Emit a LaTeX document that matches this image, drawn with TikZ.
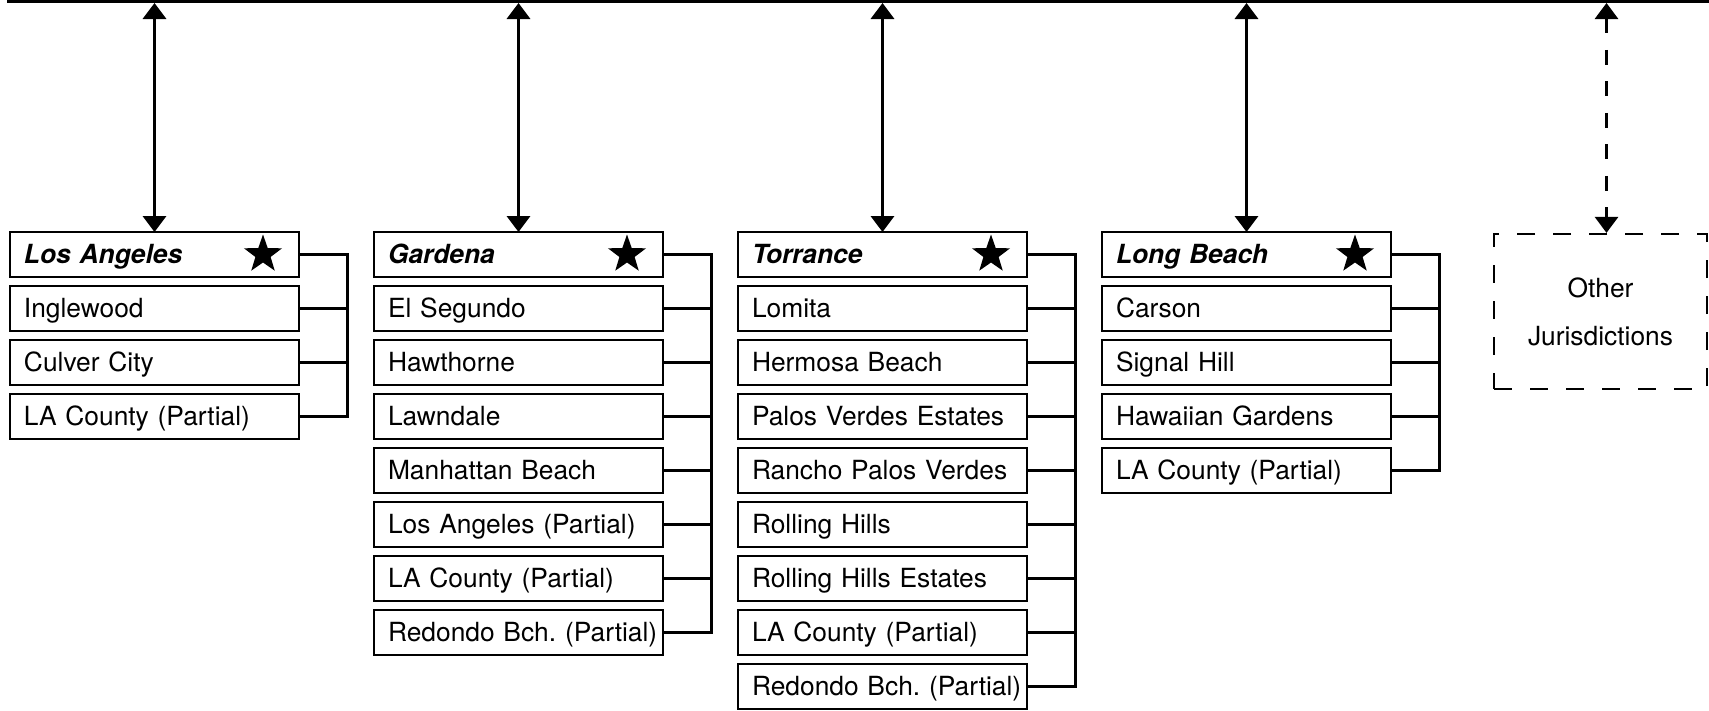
\documentclass[tikz,border=0pt]{standalone}
\usepackage{fontspec}
\setmainfont{TeX Gyre Heros}
\usepackage{tikz}
\usetikzlibrary{positioning}
\usetikzlibrary{shapes.geometric}
\usetikzlibrary{arrows.meta}

\begin{document}
\begin{tikzpicture}[city/.style={draw, rectangle, line width=0.045cm, outer sep=0pt, inner xsep=0.14cm, inner ysep=0pt,
				text width=5.5cm, text height=11pt, text depth=0.5pt, align=left, minimum height=0.9cm,
				font=\fontsize{15}{18}\selectfont\frenchspacing,
				execute at begin node={\hspace*{0.14cm}\hbox\bgroup}, execute at end node={\egroup}},
			seat/.style={city, font=\fontsize{15}{18}\selectfont\bfseries\itshape},
			starmark/.style={star, star points=5, star point ratio=2.5, fill=black, draw=none, inner sep=0pt, minimum size=0.8cm},
			link/.style={{Triangle[width=0.46cm,length=0.32cm]}-{Triangle[width=0.46cm,length=0.32cm]}, line width=0.07cm, shorten <=0.03cm},
			bus/.style={line width=0.06cm},
			node distance=0.18cm]
			\useasboundingbox (0,0) rectangle (34.18,-14.2);
			\clip (0,0) rectangle (34.18,-14.2);
			
			\coordinate (bar-nw) at (0.16,0.5);
			\coordinate (bar-sw) at (0.16,-0.03);
			\coordinate (bar-se) at (34.6,-0.03);
			\draw[line width=0.06cm] (bar-nw) -- (bar-sw) -- (bar-se);
			
			\node[seat, anchor=north west] (la) at (0.2,-4.64) {Los Angeles};
			\node[starmark] (la-star) at ([xshift=-0.72cm]la.east) {};
			\node[city, below=of la] (la1) {Inglewood};
			\node[city, below=of la1] (la2) {Culver City};
			\node[city, below=of la2] (la3) {LA County (Partial)};
			
			\node[seat, right=1.5cm of la] (gar) {Gardena};
			\node[starmark] (gar-star) at ([xshift=-0.72cm]gar.east) {};
			\node[city, below=of gar] (gar1) {El Segundo};
			\node[city, below=of gar1] (gar2) {Hawthorne};
			\node[city, below=of gar2] (gar3) {Lawndale};
			\node[city, below=of gar3] (gar4) {Manhattan Beach};
			\node[city, below=of gar4] (gar5) {Los Angeles (Partial)};
			\node[city, below=of gar5] (gar6) {LA County (Partial)};
			\node[city, below=of gar6] (gar7) {Redondo Bch. (Partial)};
			
			\node[seat, right=1.5cm of gar] (tor) {Torrance};
			\node[starmark] (tor-star) at ([xshift=-0.72cm]tor.east) {};
			\node[city, below=of tor] (tor1) {Lomita};
			\node[city, below=of tor1] (tor2) {Hermosa Beach};
			\node[city, below=of tor2] (tor3) {Palos Verdes Estates};
			\node[city, below=of tor3] (tor4) {Rancho Palos Verdes};
			\node[city, below=of tor4] (tor5) {Rolling Hills};
			\node[city, below=of tor5] (tor6) {Rolling Hills Estates};
			\node[city, below=of tor6] (tor7) {LA County (Partial)};
			\node[city, below=of tor7] (tor8) {Redondo Bch. (Partial)};
			
			\node[seat, right=1.5cm of tor] (lb) {Long Beach};
			\node[starmark] (lb-star) at ([xshift=-0.72cm]lb.east) {};
			\node[city, below=of lb] (lb1) {Carson};
			\node[city, below=of lb1] (lb2) {Signal Hill};
			\node[city, below=of lb2] (lb3) {Hawaiian Gardens};
			\node[city, below=of lb3] (lb4) {LA County (Partial)};
			
			\node[draw, rectangle, line width=0.045cm, dash pattern=on 0.36cm off 0.36cm, minimum width=4.26cm, minimum height=3.1cm,
				align=center, font=\fontsize{15}{27.3}\selectfont] (other) at (32.01,-6.23) {Other\\Jurisdictions};
			
			\coordinate[right=0.96cm of la.east] (la-bus);
			\draw[bus] (la.east) -- (la-bus) |- (la3.east);
			\draw[bus] (la1.east) -- (la1.east -| la-bus);
			\draw[bus] (la2.east) -- (la2.east -| la-bus);
			
			\coordinate[right=0.96cm of gar.east] (gar-bus);
			\draw[bus] (gar.east) -- (gar-bus) |- (gar7.east);
			\draw[bus] (gar1.east) -- (gar1.east -| gar-bus);
			\draw[bus] (gar2.east) -- (gar2.east -| gar-bus);
			\draw[bus] (gar3.east) -- (gar3.east -| gar-bus);
			\draw[bus] (gar4.east) -- (gar4.east -| gar-bus);
			\draw[bus] (gar5.east) -- (gar5.east -| gar-bus);
			\draw[bus] (gar6.east) -- (gar6.east -| gar-bus);
			
			\coordinate[right=0.96cm of tor.east] (tor-bus);
			\draw[bus] (tor.east) -- (tor-bus) |- (tor8.east);
			\draw[bus] (tor1.east) -- (tor1.east -| tor-bus);
			\draw[bus] (tor2.east) -- (tor2.east -| tor-bus);
			\draw[bus] (tor3.east) -- (tor3.east -| tor-bus);
			\draw[bus] (tor4.east) -- (tor4.east -| tor-bus);
			\draw[bus] (tor5.east) -- (tor5.east -| tor-bus);
			\draw[bus] (tor6.east) -- (tor6.east -| tor-bus);
			\draw[bus] (tor7.east) -- (tor7.east -| tor-bus);
			
			\coordinate[right=0.96cm of lb.east] (lb-bus);
			\draw[bus] (lb.east) -- (lb-bus) |- (lb4.east);
			\draw[bus] (lb1.east) -- (lb1.east -| lb-bus);
			\draw[bus] (lb2.east) -- (lb2.east -| lb-bus);
			\draw[bus] (lb3.east) -- (lb3.east -| lb-bus);
			
			\draw[link] (la.north |- bar-sw) -- (la.north);
			\draw[link] (gar.north |- bar-sw) -- (gar.north);
			\draw[link] (tor.north |- bar-sw) -- (tor.north);
			\draw[link] (lb.north |- bar-sw) -- (lb.north);
			\draw[link, line width=0.06cm, dash pattern=on 0.3cm off 0.33cm] ([xshift=0.12cm]other.north |- bar-sw) -- ([xshift=0.12cm]other.north);
			
		\end{tikzpicture}
\end{document}
